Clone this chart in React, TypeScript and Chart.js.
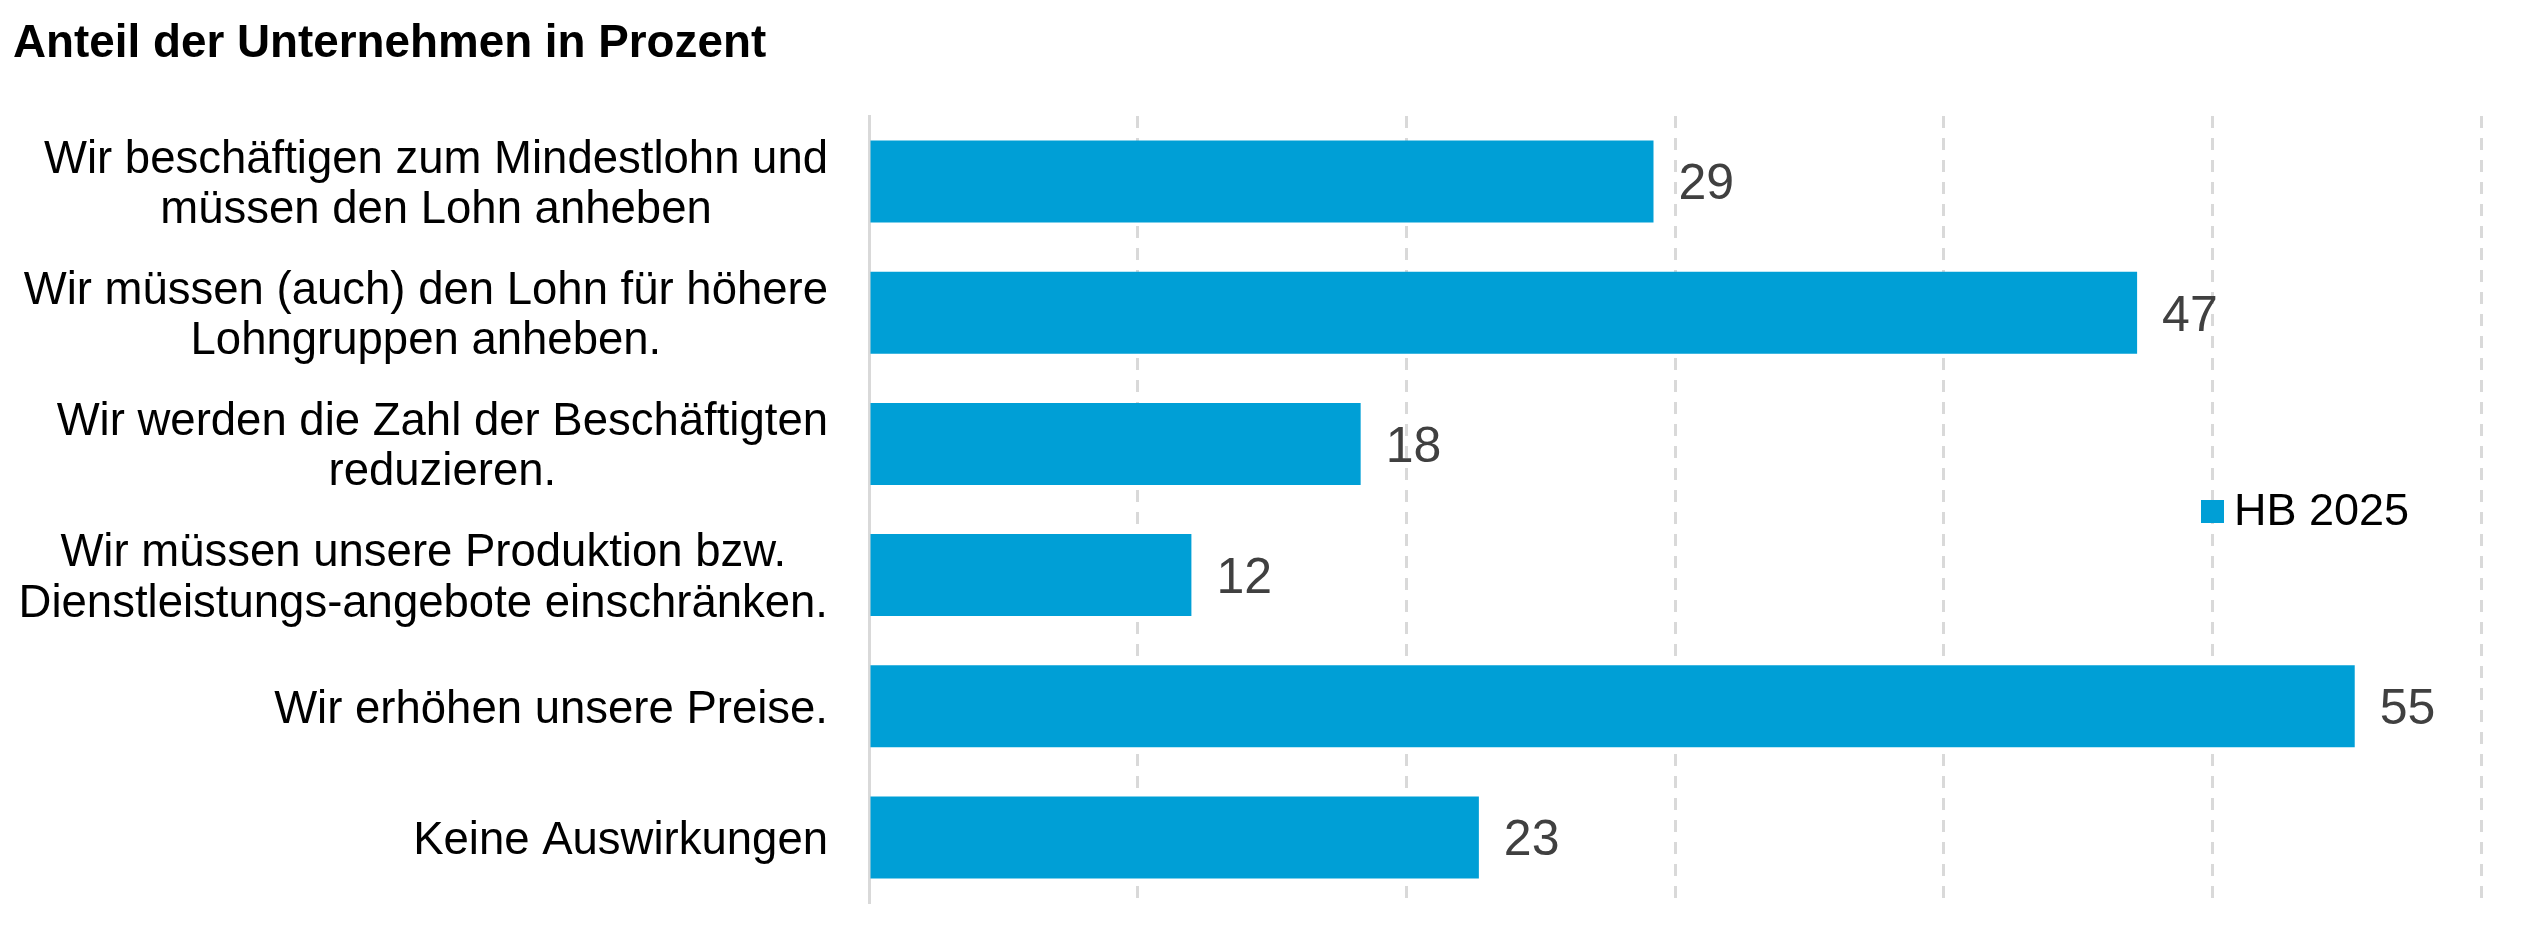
import React, { useEffect, useRef } from 'react';
import { Chart, registerables } from 'chart.js';

Chart.register(...registerables);

const TITLE = 'Anteil der Unternehmen in Prozent';
const SERIES_NAME = 'HB 2025';
const categories: string[][] = [
  ['Wir beschäftigen zum Mindestlohn und', 'müssen den Lohn anheben'],
  ['Wir müssen (auch) den Lohn für höhere', 'Lohngruppen anheben.'],
  ['Wir werden die Zahl der Beschäftigten', 'reduzieren.'],
  ['Wir müssen unsere Produktion bzw.', 'Dienstleistungs-angebote einschränken.'],
  ['Wir erhöhen unsere Preise.'],
  ['Keine Auswirkungen'],
];
// bar lengths (unrounded)
const values = [29.2, 47.2, 18.3, 12.0, 55.3, 22.7];
// printed value labels
const valueLabels = ['29', '47', '18', '12', '55', '23'];
const AXIS_MIN = 0;
const AXIS_MAX = 60;
const AXIS_STEP = 10;

const FONT = "'Liberation Sans', Arial, Helvetica, sans-serif";
const BAR_COLOR = '#009FD6';
const GRID_COLOR = '#D9D9D9';

const titlePlugin = {
  id: 'customTitle',
  afterDraw(chart: any) {
    const ctx = chart.ctx;
    ctx.save();
    ctx.font = `bold 45.8px ${FONT}`;
    ctx.fillStyle = '#000000';
    ctx.textAlign = 'left';
    ctx.textBaseline = 'alphabetic';
    ctx.fillText(TITLE, 13, 57);
    ctx.restore();
  },
};

const LABEL_SIZE = 45.5;
const LABEL_LINE = 50.5;
const LABEL_GAP = 41;
const categoryLabelPlugin = {
  id: 'categoryLabels',
  afterDraw(chart: any) {
    const ctx = chart.ctx;
    const yScale = chart.scales.y;
    ctx.save();
    ctx.font = `${LABEL_SIZE}px ${FONT}`;
    ctx.fillStyle = '#000000';
    ctx.textAlign = 'center';
    ctx.textBaseline = 'alphabetic';
    categories.forEach((lines, i) => {
      const widths = lines.map((l) => ctx.measureText(l).width);
      const blockW = Math.max(...widths);
      const cx = yScale.right - LABEL_GAP - blockW / 2;
      const yc = yScale.getPixelForTick(i);
      const n = lines.length;
      lines.forEach((line, j) => {
        const ly = yc + (j - (n - 1) / 2) * LABEL_LINE;
        ctx.fillText(line, cx, ly + 0.358 * LABEL_SIZE);
      });
    });
    ctx.restore();
  },
};

const VALUE_SIZE = 50;
const valueLabelPlugin = {
  id: 'valueLabels',
  afterDatasetsDraw(chart: any) {
    const ctx = chart.ctx;
    const meta = chart.getDatasetMeta(0);
    ctx.save();
    ctx.font = `${VALUE_SIZE}px ${FONT}`;
    ctx.fillStyle = '#404040';
    ctx.textAlign = 'left';
    ctx.textBaseline = 'alphabetic';
    meta.data.forEach((bar: any, i: number) => {
      ctx.fillText(valueLabels[i], bar.x + 25, bar.y + 0.358 * VALUE_SIZE);
    });
    ctx.restore();
  },
};

const legendPlugin = {
  id: 'customLegend',
  afterDraw(chart: any) {
    const ctx = chart.ctx;
    const ca = chart.chartArea;
    const bx = ca.right - 280;
    const my = (ca.top + ca.bottom) / 2;
    ctx.save();
    ctx.fillStyle = BAR_COLOR;
    ctx.fillRect(bx, my - 9.5, 23, 23);
    ctx.font = `45px ${FONT}`;
    ctx.fillStyle = '#000000';
    ctx.textAlign = 'left';
    ctx.textBaseline = 'alphabetic';
    ctx.fillText(SERIES_NAME, bx + 33, my + 15.5);
    ctx.restore();
  },
};

export default function App() {
  const canvasRef = useRef<HTMLCanvasElement | null>(null);

  useEffect(() => {
    document.body.style.margin = '0';
    const canvas = canvasRef.current;
    if (!canvas) return;
    const chart = new Chart(canvas, {
      type: 'bar',
      data: {
        labels: categories.map((c) => c.join(' ')),
        datasets: [
          {
            label: SERIES_NAME,
            data: values,
            backgroundColor: BAR_COLOR,
            borderWidth: 0,
            barPercentage: 0.625,
            categoryPercentage: 1.0,
          },
        ],
      },
      options: {
        indexAxis: 'y',
        responsive: false,
        maintainAspectRatio: false,
        animation: false,
        devicePixelRatio: 1,
        layout: { padding: { left: 0, right: 45, top: 116, bottom: 29 } },
        plugins: {
          legend: { display: false },
          title: { display: false },
          tooltip: { enabled: false },
        },
        scales: {
          x: {
            type: 'linear',
            min: AXIS_MIN,
            max: AXIS_MAX,
            ticks: { display: false, stepSize: AXIS_STEP },
            grid: {
              display: true,
              drawTicks: false,
              lineWidth: 3,
              color: (ctx: any) => (ctx.tick && ctx.tick.value === AXIS_MIN ? 'rgba(0,0,0,0)' : GRID_COLOR),
            },
            border: { display: false, dash: [12, 10] },
          } as any,
          y: {
            type: 'category',
            ticks: { display: false },
            grid: { display: false, drawTicks: false },
            border: { display: true, color: GRID_COLOR, width: 3 },
            afterFit(scale: any) {
              scale.width = 869;
            },
          },
        },
      },
      plugins: [titlePlugin, categoryLabelPlugin, valueLabelPlugin, legendPlugin],
    } as any);
    return () => chart.destroy();
  }, []);

  return (
    <div style={{ position: 'absolute', left: 0, top: 0, width: 2526, height: 932, background: '#ffffff' }}>
      <canvas ref={canvasRef} width={2526} height={932} style={{ display: 'block', width: 2526, height: 932 }} />
    </div>
  );
}
